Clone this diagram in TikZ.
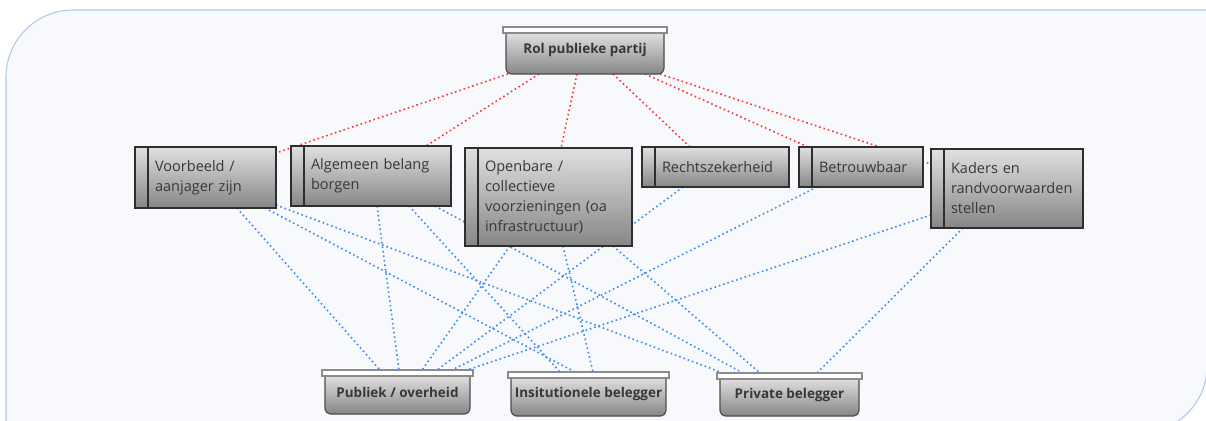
\documentclass[tikz,border=0pt]{standalone}
\usepackage{fontspec}
\setmainfont{Open Sans}
\usetikzlibrary{calc,fit}
\pgfdeclarelayer{frame}
\pgfdeclarelayer{edges}
\pgfsetlayers{frame,edges,main}

\definecolor{framefill}{HTML}{F7F9FD}
\definecolor{frameline}{HTML}{B4C8E8}
\definecolor{boxtop}{HTML}{E0E0E0}
\definecolor{boxbot}{HTML}{868686}
\definecolor{boxline}{HTML}{2E2E2E}
\definecolor{textgray}{HTML}{383838}
\definecolor{linkred}{HTML}{FF3434}
\definecolor{linkblue}{HTML}{3A8BF0}

\begin{document}
\begin{tikzpicture}[
  x=0.75pt, y=-0.75pt,
  font=\fontsize{10.9}{15}\selectfont,
  rolebox/.style={draw=boxline, line width=1.1pt, top color=boxtop, bottom color=boxbot, text=textgray, align=left, inner xsep=5.25pt, inner ysep=0pt, outer sep=0pt},
  stripbox/.style={draw=boxline, line width=1.1pt, top color=boxtop, bottom color=boxbot, inner sep=0pt, outer sep=0pt},
  partybox/.style={draw=boxline!85, line width=0.9pt, rounded corners=4.5pt, top color=boxtop!60!white, bottom color=boxbot, text=textgray, font=\fontsize{10.1}{12}\selectfont\bfseries, inner sep=0pt, outer sep=0pt},
  lidbox/.style={draw=gray!90, fill=white, line width=0.8pt},
  rolelink/.style={draw=linkred, line width=1.2pt, dash pattern=on 1.2pt off 2.2pt},
  investlink/.style={draw=linkblue, line width=1.2pt, dash pattern=on 1.2pt off 2.2pt}
]
  \useasboundingbox (0,0) rectangle (1206,421);
  \clip (0,0) rectangle (1206,421);

  % frame
  \begin{pgfonlayer}{frame}
    \fill[white] (0,0) rectangle (1206,421);
    \draw[frameline, fill=framefill, line width=0.8pt] (6,440) -- (6,77) arc[start angle=180, end angle=270, radius=67]
      -- (1207,10) -- (1207,366) arc[start angle=0, end angle=90, radius=67] -- (6,433) -- cycle;
  \end{pgfonlayer}

  % top
  \node[partybox, minimum width=118.5pt, minimum height=35.25pt] (rol) at (585,50.5) {Rol publieke partij};

  % roles
  \node[rolebox, text width=85.5pt, minimum height=45.75pt] (voorbeeld) at (212,177.5) {Voorbeeld /\\aanjager zijn};
  \node[rolebox, text width=99.75pt, minimum height=45pt] (algemeen) at (377.5,176) {Algemeen belang\\borgen};
  \node[rolebox, text width=105pt, minimum height=73.5pt] (openbare) at (555,197) {Openbare /\\collectieve\\voorzieningen (oa\\infrastructuur)};
  \node[rolebox, text width=90pt, minimum height=30pt] (recht) at (722,167) {Rechtszekerheid};
  \node[rolebox, text width=72.75pt, minimum height=30pt] (betrouw) at (867.5,167) {Betrouwbaar};
  \node[rolebox, text width=93.75pt, minimum height=59.25pt] (kaders) at (1013.5,188.5) {Kaders en\\randvoorwaarden\\stellen};
  \foreach \n in {voorbeeld,algemeen,openbare,recht,betrouw,kaders}
    \node[stripbox, fit={($(\n.north west)+(-13,0)$) (\n.south west)}] (\n-strip) {};

  % investors
  \node[partybox, minimum width=108.75pt, minimum height=33pt] (publiek) at (397.5,392) {Publiek / overheid};
  \node[partybox, minimum width=116.25pt, minimum height=33pt] (insti) at (588.5,394) {Insitutionele belegger};
  \node[partybox, minimum width=104.25pt, minimum height=32.25pt] (priv) at (789.5,394.5) {Private belegger};
  \foreach \n in {rol,publiek,insti,priv}
    \draw[lidbox] ($(\n.north west)+(-3,0)$) rectangle ($(\n.north east)+(3,6)$);

  \begin{pgfonlayer}{edges}
    % rol to roles
    \draw[rolelink] ($(rol.south)+(-77,0)$) -- ($(voorbeeld.north east)+(0,6)$);
    \draw[rolelink] ($(rol.south)+(-46,0)$) -- ($(algemeen.north)+(48.5,0)$);
    \draw[rolelink] ($(rol.south)+(-8,0)$) -- ($(openbare.north)+(6,0)$);
    \draw[rolelink] ($(rol.south)+(28,0)$) -- ($(recht.north)+(-32,0)$);
    \draw[rolelink] ($(rol.south)+(60,0)$) -- ($(betrouw.north west)+(-4,0)$);
    \draw[rolelink] ($(rol.south)+(75,0)$) -- ($(kaders-strip.north west)+(0,15)$);
    % roles to investors
    \draw[investlink] ($(voorbeeld.south)+(25,0)$) -- ($(publiek.north)+(-17.5,0)$);
    \draw[investlink] ($(voorbeeld.south)+(53,0)$) -- ($(insti.north)+(-13.5,0)$);
    \draw[investlink] ($(voorbeeld.south east)+(0,-3)$) -- ($(priv.north)+(-66.5,0)$);
    \draw[investlink] ($(algemeen.south)+(-0.5,0)$) -- ($(publiek.north)+(1.5,0)$);
    \draw[investlink] ($(algemeen.south)+(31.5,0)$) -- ($(insti.north)+(-28.5,0)$);
    \draw[investlink] ($(algemeen.south)+(57.5,0)$) -- ($(priv.north)+(-46.5,0)$);
    \draw[investlink] ($(openbare.south)+(-45,0)$) -- ($(publiek.north)+(24.5,0)$);
    \draw[investlink] ($(openbare.south)+(8,0)$) -- ($(insti.north)+(4.5,0)$);
    \draw[investlink] ($(openbare.south)+(58,0)$) -- ($(priv.north)+(-29.5,0)$);
    \draw[investlink] ($(recht.south)+(-39,0)$) -- ($(publiek.north)+(39.5,0)$);
    \draw[investlink] ($(betrouw.south)+(-50.5,0)$) -- ($(publiek.north)+(54.5,0)$);
    \draw[investlink] ($(kaders-strip.south west)+(0,-13)$) -- ($(publiek.north)+(69.5,0)$);
    \draw[investlink] ($(kaders.south west)+(19,0)$) -- ($(priv.north)+(27.5,0)$);
  \end{pgfonlayer}
\end{tikzpicture}
\end{document}
